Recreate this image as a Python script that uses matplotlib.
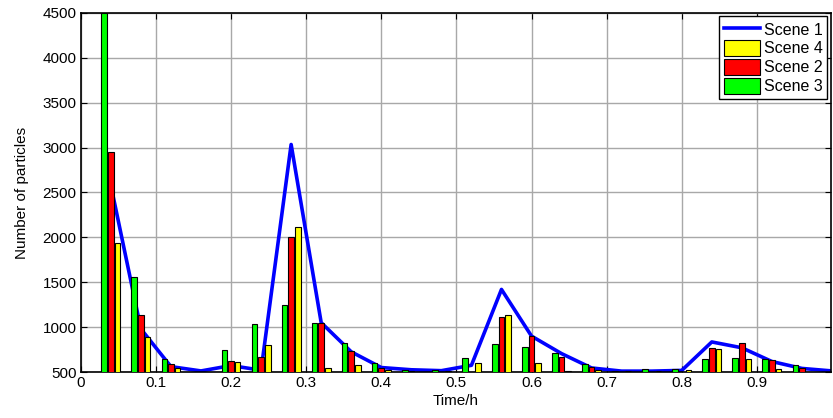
import matplotlib
matplotlib.use("Agg")
import matplotlib.pyplot as plt
import numpy as np

plt.rcParams['font.family'] = ['Liberation Sans', 'DejaVu Sans']

# time points of the bar groups (h)
times = [0.04, 0.08, 0.12, 0.16, 0.20, 0.24, 0.28, 0.32, 0.36, 0.40, 0.44, 0.48,
         0.52, 0.56, 0.60, 0.64, 0.68, 0.72, 0.76, 0.80, 0.84, 0.88, 0.92, 0.96]

scene3 = [4500, 1560, 640, 480, 745, 1035, 1245, 1050, 825, 600, 522, 522,
          660, 810, 780, 715, 585, 511, 530, 537, 640, 660, 650, 578]
scene2 = [2955, 1140, 585, 480, 623, 664, 2000, 1042, 734, 550, 515, 490,
          490, 1115, 905, 671, 552, 505, 505, 495, 770, 825, 634, 548]
scene4 = [1940, 890, 550, 480, 611, 797, 2110, 541, 578, 525, 495, 515,
          604, 1135, 604, 515, 522, 511, 515, 522, 760, 641, 530, 495]

# scene 1 is drawn as a line, it runs on to the right edge
line_times = times + [1.0]
scene1 = [2580, 980, 560, 512, 572, 520, 3035, 1050, 725, 550, 525, 515,
          575, 1420, 900, 705, 545, 510, 510, 518, 835, 770, 617, 540, 512]

fig = plt.figure(figsize=(8.33, 4.18), dpi=100)
ax = fig.add_axes([0.097, 0.11, 0.9, 0.859])

t = np.array(times)
w = 0.0075
off = 0.0088
ax.plot(line_times, scene1, color='blue', lw=2.6, zorder=2, label='Scene 1')
b3 = ax.bar(t - off, scene3, w, color='#00ff00', edgecolor='black', lw=0.8, zorder=3, label='Scene 3')
b2 = ax.bar(t, scene2, w, color='red', edgecolor='black', lw=0.8, zorder=3, label='Scene 2')
b4 = ax.bar(t + off, scene4, w, color='yellow', edgecolor='black', lw=0.8, zorder=3, label='Scene 4')

ax.set_xlim(0, 0.998)
ax.set_ylim(500, 4500)
ax.set_xticks(np.arange(0, 0.95, 0.1))
ax.set_xticklabels(['0', '0.1', '0.2', '0.3', '0.4', '0.5', '0.6', '0.7', '0.8', '0.9'])
ax.set_yticks(np.arange(500, 4501, 500))
ax.grid(True, color='#a8a8a8', lw=1, zorder=0)
ax.set_axisbelow(True)
ax.tick_params(direction='in', top=True, right=True, labelsize=11, length=4, pad=3)
for s in ax.spines.values():
    s.set_linewidth(1.2)

ax.set_xlabel('Time/h', fontsize=11, labelpad=3)
ax.set_ylabel('Number of particles', fontsize=11, labelpad=10)

h, l = ax.get_legend_handles_labels()
order = [0, 3, 2, 1]
leg = ax.legend([h[i] for i in order], [l[i] for i in order], loc='upper right',
                fontsize=11.5, fancybox=False, framealpha=1, edgecolor='black',
                borderaxespad=0.2, handlelength=2.3, handleheight=1.2, handletextpad=0.2,
                labelspacing=0.15, borderpad=0.3)
leg.get_frame().set_linewidth(1)

fig.savefig('out.png', dpi=100)
